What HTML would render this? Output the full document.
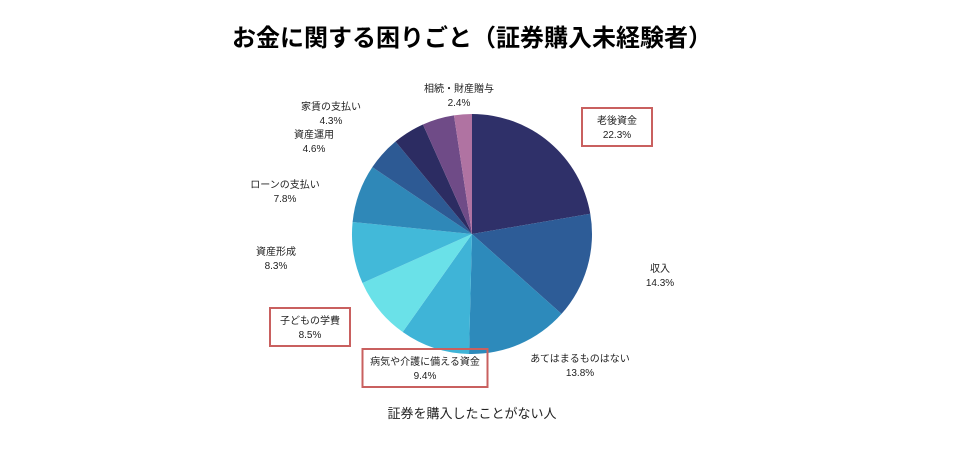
<!DOCTYPE html>
<html><head><meta charset="utf-8"><style>
body{margin:0;background:#fff;width:955px;height:456px;overflow:hidden;font-family:"Liberation Sans","Noto Sans CJK JP",sans-serif}
svg{display:block}
text{font-family:"Liberation Sans","Noto Sans CJK JP",sans-serif}
</style></head><body>
<svg id="chart" width="955" height="456">
<text x="472" y="46" text-anchor="middle" font-size="24" font-weight="bold" fill="#000">お金に関する困りごと（証券購入未経験者）</text>
<text x="472" y="418" text-anchor="middle" font-size="13" fill="#222">証券を購入したことがない人</text>
<g id="slices"></g>
<g id="labels"></g>
</svg>
<script>
const categories=["老後資金","収入","あてはまるものはない","病気や介護に備える資金","子どもの学費","資産形成","ローンの支払い","資産運用","家賃の支払い","","相続・財産贈与"];
const values=[22.3,14.3,13.8,9.4,8.5,8.3,7.8,4.6,4.3,4.3,2.4];
const colors=["#2f3069","#2d5c97","#2d8abb","#3fb4d7","#6ae1e8","#42b9d9","#2f88b8","#2d5a94","#2c2c62","#6f4b87","#b073a2"];
const labelPos=[[617,124],[660,272],[580,362],[425,365],[310,324],[276,255],[285,188],[314,138],[331,110],null,[459,92]];
const boxW=[70,0,0,125,80,0,0,0,0,0,0];
const cx=472,cy=234,r=120;
const total=values.reduce((a,b)=>a+b,0);
const NS="http://www.w3.org/2000/svg";
const gs=document.getElementById('slices'),gl=document.getElementById('labels');
function pt(a){return [cx+r*Math.sin(a),cy-r*Math.cos(a)];}
let acc=0;
values.forEach((v,i)=>{
 const a0=acc/total*2*Math.PI;acc+=v;const a1=acc/total*2*Math.PI;
 const p0=pt(a0),p1=pt(a1);
 const p=document.createElementNS(NS,'path');
 p.setAttribute('d',`M${cx},${cy}L${p0[0]},${p0[1]}A${r},${r} 0 ${a1-a0>Math.PI?1:0} 1 ${p1[0]},${p1[1]}Z`);
 p.setAttribute('fill',colors[i]);
 
 
 gs.appendChild(p);
 if(!categories[i]||!labelPos[i])return;
 const [x,y]=labelPos[i];
 const g=document.createElementNS(NS,'g');
 
 
 const t1=document.createElementNS(NS,'text');
 t1.setAttribute('x',x);t1.setAttribute('y',y);t1.setAttribute('text-anchor','middle');t1.setAttribute('font-size','10');t1.setAttribute('fill','#222');
 t1.textContent=categories[i];
 const t2=document.createElementNS(NS,'text');
 t2.setAttribute('x',x);t2.setAttribute('y',y+14);t2.setAttribute('text-anchor','middle');t2.setAttribute('font-size','10');t2.setAttribute('fill','#222');
 t2.textContent=v.toFixed(1)+'%';
 g.appendChild(t1);g.appendChild(t2);
 if(boxW[i]){
  const w=boxW[i];
  const b=document.createElementNS(NS,'rect');
  b.setAttribute('x',x-w/2);b.setAttribute('y',y-16);b.setAttribute('width',w);b.setAttribute('height',38);
  b.setAttribute('fill','none');b.setAttribute('stroke','#c9605f');b.setAttribute('stroke-width','2');
  
  
  g.appendChild(b);
 }
 gl.appendChild(g);
});
</script>
</body></html>
